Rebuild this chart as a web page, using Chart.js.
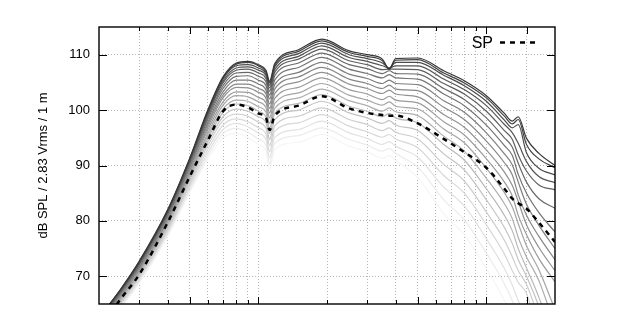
<!DOCTYPE html>
<html>
<head>
<meta charset="utf-8">
<script src="https://cdn.jsdelivr.net/npm/chart.js@4.4.1/dist/chart.umd.min.js"></script>
<style>
  html, body { margin: 0; padding: 0; background: #fff; }
  #wrap { width: 619px; height: 324px; }
</style>
</head>
<body>
<div id="wrap"><canvas id="polarChart" width="619" height="324"></canvas></div>
<script>
// frequency points (Hz), shared by every curve
const freqHz = [20, 25, 30, 40, 50, 60, 70, 80, 90, 100, 108, 112, 118, 150, 190, 250, 300, 350, 375, 400, 500, 650, 800, 1000, 1200, 1300, 1380, 1500, 1700, 2000];

// sound power (dashed)
const spValues = [60.5, 66.0, 70.3, 79.7, 88.0, 94.5, 99.8, 101.0, 100.5, 99.4, 98.6, 96.4, 99.0, 100.8, 102.5, 100.3, 99.5, 99.1, 99.0, 99.0, 97.6, 94.8, 92.4, 89.6, 85.8, 84.0, 83.2, 82.2, 79.7, 76.2];

// off-axis family, on-axis first
const deg00 = [62.5, 67.8, 72.7, 82.0, 91.3, 100.0, 106.0, 108.5, 108.8, 108.2, 107.2, 105.2, 108.4, 110.9, 112.8, 110.7, 110.0, 109.2, 107.4, 109.3, 109.4, 107.1, 105.3, 102.6, 99.4, 98.0, 98.8, 94.9, 92.2, 90.0];
const deg01 = [62.5, 67.7, 72.6, 81.9, 91.2, 99.8, 105.8, 108.3, 108.6, 108.0, 106.9, 104.9, 108.1, 110.6, 112.5, 110.4, 109.7, 108.9, 107.4, 109.0, 109.1, 106.7, 104.9, 102.2, 98.9, 97.5, 98.3, 93.8, 91.2, 89.6];
const deg02 = [62.4, 67.7, 72.5, 81.8, 91.1, 99.6, 105.6, 108.0, 108.2, 107.6, 106.6, 104.5, 107.8, 110.2, 112.1, 110.0, 109.3, 108.5, 107.6, 108.6, 108.6, 106.3, 104.4, 101.6, 98.2, 96.8, 97.4, 92.3, 89.5, 88.3];
const deg03 = [62.3, 67.6, 72.4, 81.7, 90.9, 99.4, 105.2, 107.6, 107.8, 107.2, 106.2, 104.0, 107.3, 109.7, 111.6, 109.5, 108.8, 108.0, 107.6, 108.0, 108.0, 105.6, 103.7, 100.8, 97.4, 95.9, 94.0, 90.7, 88.0, 86.9];
const deg04 = [62.2, 67.4, 72.3, 81.5, 90.7, 99.1, 104.9, 107.2, 107.4, 106.7, 105.7, 103.4, 106.8, 109.2, 111.0, 108.9, 108.2, 107.3, 107.4, 107.4, 107.3, 104.8, 102.9, 99.8, 96.3, 94.7, 91.9, 89.0, 86.5, 85.6];
const deg05 = [62.1, 67.3, 72.1, 81.3, 90.4, 98.7, 104.4, 106.7, 106.8, 106.1, 105.1, 102.7, 106.2, 108.5, 110.3, 108.2, 107.5, 106.6, 107.1, 106.6, 106.5, 103.9, 101.9, 98.6, 95.0, 93.3, 90.4, 87.0, 84.0, 82.3];
const deg06 = [61.9, 67.1, 71.9, 81.1, 90.1, 98.3, 103.9, 106.1, 106.2, 105.4, 104.4, 102.0, 105.4, 107.7, 109.5, 107.4, 106.6, 105.8, 106.4, 105.8, 105.6, 102.9, 100.8, 97.3, 93.6, 91.8, 88.4, 85.0, 81.5, 78.0];
const deg07 = [61.7, 67.0, 71.7, 80.8, 89.8, 97.8, 103.3, 105.4, 105.4, 104.7, 103.6, 101.1, 104.6, 106.8, 108.6, 106.5, 105.7, 104.8, 105.4, 104.8, 104.6, 101.7, 99.6, 95.9, 92.1, 90.1, 87.0, 83.0, 79.2, 75.0];
const deg08 = [61.6, 66.8, 71.5, 80.6, 89.5, 97.4, 102.7, 104.7, 104.7, 103.9, 102.9, 100.3, 103.8, 106.0, 107.7, 105.6, 104.8, 103.9, 104.5, 103.8, 103.5, 100.5, 98.3, 94.4, 90.5, 88.3, 84.7, 81.0, 77.2, 73.0];
const deg09 = [61.4, 66.6, 71.3, 80.3, 89.1, 96.9, 102.2, 104.1, 104.0, 103.2, 102.1, 99.5, 103.0, 105.1, 106.8, 104.7, 103.9, 103.0, 103.6, 102.9, 102.4, 99.2, 96.9, 92.8, 88.8, 86.4, 83.5, 79.3, 75.2, 71.0];
const deg10 = [61.2, 66.4, 71.1, 80.0, 88.8, 96.4, 101.5, 103.3, 103.2, 102.3, 101.3, 98.6, 102.1, 104.1, 105.8, 103.7, 102.9, 101.9, 102.5, 101.8, 101.3, 97.9, 95.5, 91.2, 87.0, 84.5, 81.0, 77.5, 73.2, 69.0];
const deg11 = [61.1, 66.2, 70.9, 79.8, 88.4, 95.8, 100.9, 102.6, 102.4, 101.5, 100.4, 97.6, 101.2, 103.1, 104.8, 102.7, 101.8, 100.9, 101.5, 100.7, 100.2, 96.6, 94.1, 89.5, 85.1, 82.5, 79.5, 75.5, 71.2, 64.0];
const deg12 = [60.9, 66.0, 70.6, 79.5, 88.1, 95.3, 100.2, 101.8, 101.6, 100.6, 99.6, 96.7, 100.3, 102.2, 103.8, 101.7, 100.8, 99.8, 100.4, 99.7, 99.0, 95.3, 92.6, 87.7, 83.1, 80.4, 77.0, 73.5, 69.2, 61.0];
const deg13 = [60.7, 65.8, 70.4, 79.2, 87.7, 94.8, 99.6, 101.1, 100.8, 99.8, 98.7, 95.8, 99.4, 101.2, 102.8, 100.7, 99.8, 98.8, 99.4, 98.6, 97.7, 93.8, 91.0, 85.8, 81.0, 78.2, 75.0, 71.5, 66.2, 58.0];
const deg14 = [60.5, 65.6, 70.1, 78.9, 87.3, 94.2, 98.8, 100.2, 99.8, 98.8, 97.7, 94.7, 98.3, 100.0, 101.6, 99.5, 98.6, 97.6, 98.1, 97.3, 96.3, 92.1, 89.2, 83.8, 78.8, 75.9, 73.0, 70.0, 64.5, 55.0];
const deg15 = [60.3, 65.3, 69.9, 78.5, 86.8, 93.6, 98.1, 99.3, 98.9, 97.8, 96.7, 93.6, 97.2, 98.9, 100.4, 98.3, 97.4, 96.3, 96.8, 96.0, 94.8, 90.2, 87.2, 81.6, 76.5, 73.5, 71.0, 68.5, 62.2, 52.0];
const deg16 = [60.1, 65.1, 69.6, 78.2, 86.4, 92.9, 97.3, 98.4, 97.9, 96.8, 95.6, 92.5, 96.2, 97.7, 99.2, 97.1, 96.1, 95.1, 95.6, 94.8, 93.2, 88.2, 85.0, 79.3, 74.0, 71.0, 68.9, 66.9, 59.2, 49.0];
const deg17 = [59.8, 64.8, 69.3, 77.9, 86.0, 92.3, 96.5, 97.6, 97.0, 95.8, 94.6, 91.4, 95.1, 96.5, 98.0, 95.9, 94.9, 93.8, 94.3, 93.5, 91.5, 86.1, 82.7, 76.8, 71.4, 68.4, 65.6, 62.9, 55.2, 46.0];
const deg18 = [59.6, 64.6, 69.0, 77.5, 85.5, 91.7, 95.8, 96.7, 96.0, 94.8, 93.6, 90.3, 94.0, 95.4, 96.8, 94.7, 93.7, 92.6, 93.1, 92.2, 89.7, 83.8, 80.2, 74.2, 68.6, 65.6, 62.7, 59.9, 52.2, 43.0];
const deg19 = [59.4, 64.4, 68.7, 77.2, 85.1, 91.1, 95.0, 95.8, 95.0, 93.8, 92.6, 89.3, 92.9, 94.2, 95.6, 93.5, 92.5, 91.3, 91.8, 90.9, 87.8, 81.3, 77.5, 71.4, 65.6, 62.6, 59.8, 56.9, 49.2, 40.0];

const yTicks = [70, 80, 90, 100, 110];
const xTicks = [30, 40, 50, 60, 70, 80, 90, 100, 200, 300, 400, 500, 600, 700, 800, 900, 1000, 1500];
const xMajor = [50, 100, 500, 1000, 1500];
const spLabel = 'SP';
const yTitle = 'dB SPL / 2.83 Vrms / 1 m';

const curves = [deg00, deg01, deg02, deg03, deg04, deg05, deg06, deg07, deg08, deg09,
                deg10, deg11, deg12, deg13, deg14, deg15, deg16, deg17, deg18, deg19];

const FONT = "'Liberation Sans', Arial, sans-serif";
Chart.defaults.font.family = FONT;

const toPoints = vals => vals.map((v, i) => ({ x: freqHz[i], y: v }));

const datasets = [{
  label: spLabel,
  data: toPoints(spValues),
  borderColor: '#000',
  borderWidth: 2.5,
  borderDash: [5, 5],
  pointRadius: 0,
  cubicInterpolationMode: 'monotone'
}];
curves.forEach((c, k) => {
  const g = Math.round(55 + k * 10);
  datasets.push({
    label: '',
    data: toPoints(c),
    borderColor: 'rgb(' + g + ',' + g + ',' + g + ')',
    borderWidth: 1.2,
    pointRadius: 0,
    cubicInterpolationMode: 'monotone'
  });
});

// gnuplot-like frame, inward ticks and the key
const framePlugin = {
  id: 'frame',
  afterDraw(chart) {
    const { ctx, chartArea: a, scales: { x, y } } = chart;
    ctx.save();
    ctx.strokeStyle = '#000';
    ctx.lineWidth = 1;
    ctx.beginPath();
    xTicks.forEach(v => {
      const px = Math.round(x.getPixelForValue(v)) + 0.5;
      const len = xMajor.includes(v) ? 7 : 4;
      ctx.moveTo(px, a.bottom); ctx.lineTo(px, a.bottom - len);
      ctx.moveTo(px, a.top); ctx.lineTo(px, a.top + len);
    });
    yTicks.forEach(v => {
      const py = Math.round(y.getPixelForValue(v)) + 0.5;
      ctx.moveTo(a.left, py); ctx.lineTo(a.left + 8, py);
      ctx.moveTo(a.right, py); ctx.lineTo(a.right - 8, py);
    });
    ctx.stroke();
    ctx.lineWidth = 1.4;
    ctx.strokeRect(a.left, a.top, a.right - a.left, a.bottom - a.top);

    const sp = chart.data.datasets[0];
    ctx.fillStyle = '#000';
    ctx.font = '16px ' + FONT;
    ctx.textAlign = 'right';
    ctx.textBaseline = 'alphabetic';
    ctx.fillText(sp.label, a.right - 62, a.top + 21.3);
    ctx.setLineDash(sp.borderDash);
    ctx.lineWidth = sp.borderWidth;
    ctx.strokeStyle = sp.borderColor;
    ctx.beginPath();
    ctx.moveTo(a.right - 55, a.top + 15.5);
    ctx.lineTo(a.right - 20, a.top + 15.5);
    ctx.stroke();
    ctx.restore();
  }
};

new Chart(document.getElementById('polarChart'), {
  type: 'line',
  data: { datasets: datasets },
  options: {
    responsive: false,
    animation: false,
    layout: { padding: { top: 27, right: 64, bottom: 20, left: 0 } },
    plugins: {
      legend: { display: false },
      tooltip: { enabled: false }
    },
    scales: {
      x: {
        type: 'logarithmic',
        min: 20,
        max: 2000,
        afterBuildTicks: s => { s.ticks = xTicks.map(v => ({ value: v, major: xMajor.includes(v) })); },
        ticks: { display: false },
        grid: { color: '#b5b5b5', lineWidth: 1, drawTicks: false },
        border: { display: false, dash: [1, 2] },
        afterFit: s => { s.height = 0; }
      },
      y: {
        min: 65,
        max: 115,
        afterBuildTicks: s => { s.ticks = yTicks.map(v => ({ value: v })); },
        ticks: { color: '#000', padding: 9, font: { size: 13 } },
        grid: { color: '#b5b5b5', lineWidth: 1, drawTicks: false },
        border: { display: false, dash: [1, 2] },
        title: {
          display: true,
          text: yTitle,
          color: '#000',
          font: { size: 13 },
          padding: { top: 36, bottom: 0 }
        },
        afterFit: s => { s.width = 99; }
      }
    }
  },
  plugins: [framePlugin]
});
</script>
</body>
</html>
